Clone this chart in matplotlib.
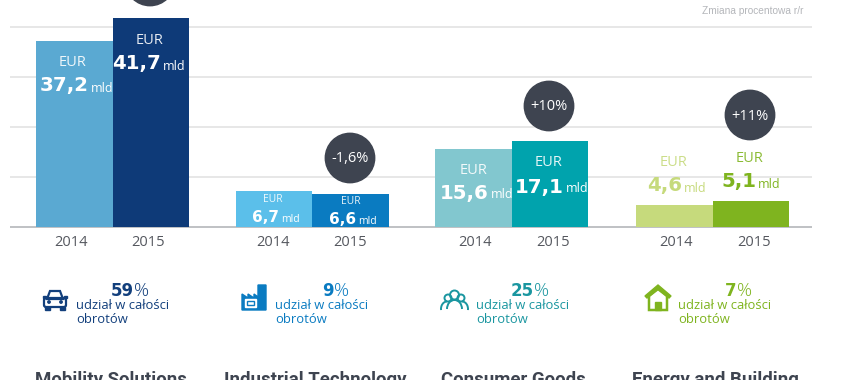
import matplotlib
matplotlib.use("Agg")
import matplotlib.pyplot as plt
from matplotlib.patches import Circle, Polygon, Rectangle, FancyBboxPatch, Arc

# values
years = ["2014", "2015"]
divisions = ["Mobility Solutions", "Industrial Technology", "Consumer Goods", "Energy and Building"]
bar_heights = [[37.2, 41.7], [7.1, 6.5], [15.6, 17.1], [4.3, 5.1]]
value_labels = [["37,2", "41,7"], ["6,7", "6,6"], ["15,6", "17,1"], ["4,6", "5,1"]]
# the first badge runs off the top of the picture, its text is not visible
change_labels = ["", "-1,6%", "+10%", "+11%"]
share_labels = ["59", "9", "25", "7"]
gridlines = [10, 20, 30, 40]

# layout in pixels
W, H = 848, 380
BASE = 226.5
PX_PER_UNIT = 5.0
BAR_W = 76.5
group_left = [36, 235.5, 435, 636]
year_x = [[71, 148], [273, 350], [475, 553], [676, 754]]
colors = [["#5aa9d2", "#0e3a78"], ["#5bbfea", "#0a7bc1"], ["#82c7cf", "#00a3ad"], ["#c6da7c", "#7fb41f"]]
eur_pos = [[(73, 63), (150, 41)], [(273, 200), (351, 202)], [(474, 170), (549, 163)], [(674, 163), (750, 158)]]
val_pos = [[(89, 86), (161, 64)], [(279, 218), (356, 219)], [(489, 193), (564, 187)], [(682, 186), (756, 182)]]
val_size = [[14.2, 14.2], [11, 11], [14.2, 14.2], [14.2, 14.2]]
val_color = [["white", "white"], ["white", "white"], ["white", "white"], ["#c6da7c", "#7fb41f"]]
circle_pos = [(150, -19), (350, 158), (549, 106), (750, 115)]
share_colors = ["#123f7c", "#0a7bc1", "#1a96a0", "#7fb41f"]
share_x = [134, 334, 534, 737]
share_text_x = [76, 275, 476, 678]
title_x = [111, 315, 513, 715]
GRAY = "#55585f"

fig = plt.figure(figsize=(W / 100, H / 100), dpi=100, facecolor="white")

ax = fig.add_axes([0, 0, 1, 1])
ax.set_xlim(0, W)
ax.set_ylim(-(H - BASE) / PX_PER_UNIT, BASE / PX_PER_UNIT)
ax.axis("off")
ax.hlines(gridlines, 10, 812, color="#e3e3e3", lw=1.2, zorder=1)
ax.hlines(0, 10, 812, color="#b4b6ba", lw=1.2, zorder=1)
for g, left in enumerate(group_left):
    for j in range(2):
        ax.bar(left + j * BAR_W, bar_heights[g][j], BAR_W, align="edge", color=colors[g][j], zorder=2)

# second layer in pixel coordinates for the labels and icons
ov = fig.add_axes([0, 0, 1, 1])
ov.set_xlim(0, W)
ov.set_ylim(H, 0)
ov.axis("off")
ov.patch.set_alpha(0)

SANS = "Open Sans"
for g in range(4):
    for j in range(2):
        ov.text(year_x[g][j], 242, years[j], ha="center", va="center", fontsize=10.5, color=GRAY, family=SANS)
        small = val_size[g][j] < 14
        c = val_color[g][j]
        ov.text(*eur_pos[g][j], "EUR", ha="center", va="center", fontsize=7.5 if small else 10.5, color=c,
                family=SANS, alpha=0.9)
        x, y = val_pos[g][j]
        ov.text(x, y, value_labels[g][j], ha="right", va="center", fontsize=val_size[g][j], color=c,
                family="DejaVu Sans", fontweight="bold")
        ov.text(x + 2, y + 2, "mld", ha="left", va="center", fontsize=7.5 if small else 9, color=c, family=SANS)
    ov.add_patch(Circle(circle_pos[g], 24.7, color="#3e4450", zorder=3))
    if change_labels[g]:
        ov.text(circle_pos[g][0], circle_pos[g][1] + 1, change_labels[g], ha="center", va="center", fontsize=10.5,
                color="white", family=SANS, zorder=4)

    c = share_colors[g]
    ov.text(share_x[g], 290.5, share_labels[g], ha="right", va="center", fontsize=12, color=c,
            family="DejaVu Sans", fontweight="bold")
    ov.text(share_x[g], 290.5, "%", ha="left", va="center", fontsize=13.5, color=c, family=SANS, fontweight="light")
    ov.text(share_text_x[g], 305.5, "udział w całości", ha="left", va="center", fontsize=9.4, color=c, family=SANS)
    ov.text(share_text_x[g], 319.5, "obrotów", ha="left", va="center", fontsize=9.4, color=c, family=SANS)

    ov.text(title_x[g], 380, divisions[g], ha="center", va="center", fontsize=13.4, color="#3e4450",
            family="Roboto", fontweight="bold")

ov.text(803, 10.5, "Zmiana procentowa r/r", ha="right", va="center", fontsize=7.3, color="#b4b6ba", family="Liberation Sans")

# car icon
NAVY = share_colors[0]
ov.add_patch(Polygon([(47, 299), (50, 291), (60, 291), (63, 299)], closed=True, fill=False, ec=NAVY, lw=1.6))
ov.add_patch(FancyBboxPatch((44, 298), 22, 9, boxstyle="round,pad=0,rounding_size=2", fill=False, ec=NAVY, lw=1.6))
ov.add_patch(Rectangle((43, 296), 3, 2, color=NAVY))
ov.add_patch(Rectangle((64, 296), 3, 2, color=NAVY))
ov.add_patch(Rectangle((45, 307), 5, 3, color=NAVY))
ov.add_patch(Rectangle((60, 307), 5, 3, color=NAVY))
ov.add_patch(Circle((49, 302), 1.2, color=NAVY))
ov.add_patch(Circle((61, 302), 1.2, color=NAVY))

# factory icon
BLUE = share_colors[1]
ov.add_patch(Polygon([(242, 310), (242, 294), (248, 298), (248, 294), (254, 298), (254, 294), (258, 297),
                      (258, 285), (266, 285), (266, 310)], closed=True, color=BLUE))
ov.add_patch(Rectangle((245, 299), 11, 8, color="white"))
ov.add_patch(Rectangle((247, 301), 7, 4, fill=False, ec=BLUE, lw=1))

# people icon
TEAL = share_colors[2]
for cx, cy, r in [(448, 298, 3.5), (461, 298, 3.5), (454.5, 295, 4.5)]:
    ov.add_patch(Circle((cx, cy), r, fill=False, ec=TEAL, lw=1.4))
ov.add_patch(Arc((454.5, 309), 15, 18, theta1=180, theta2=360, ec=TEAL, lw=1.4))
ov.add_patch(Arc((447, 309), 12, 15, theta1=170, theta2=270, ec=TEAL, lw=1.4))
ov.add_patch(Arc((462, 309), 12, 15, theta1=270, theta2=10, ec=TEAL, lw=1.4))

# house icon
GREEN = share_colors[3]
ov.add_patch(Polygon([(645, 296), (658, 285), (671, 296), (669, 298), (658, 289), (647, 298)], closed=True, color=GREEN))
ov.add_patch(Polygon([(649, 296), (658, 289), (667, 296), (667, 310), (649, 310)], closed=True, fill=False,
                     ec=GREEN, lw=1.8))
ov.add_patch(Rectangle((655, 302), 6, 8, color=GREEN))

fig.savefig("out.png", dpi=100, facecolor="white")
